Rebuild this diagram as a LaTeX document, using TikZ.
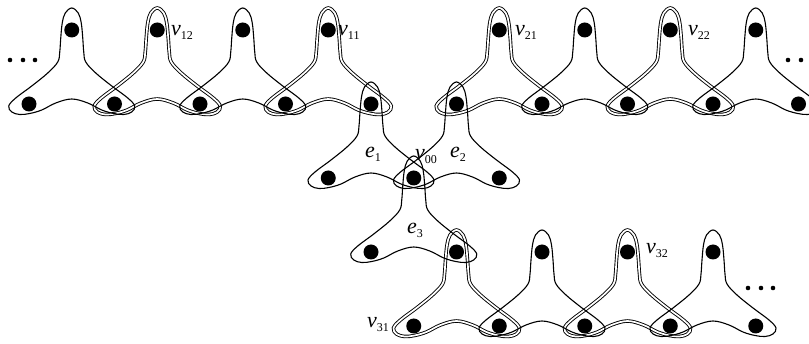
\documentclass[tikz,border=0pt]{standalone}
\usepackage{fontspec}
\setmainfont{Liberation Serif}
\begin{document}
\begin{tikzpicture}[x=1pt,y=-1pt,
  hedge/.style={line width=1.1pt},
  dbl/.style={line width=0.9pt, double distance=1.7pt},
  vtx/.style={circle, fill=black, inner sep=0pt, minimum size=15pt},
  sdot/.style={circle, fill=black, inner sep=0pt, minimum size=4.6pt},
  lbl/.style={font=\fontsize{22}{22}\selectfont\itshape, inner sep=0pt, anchor=base west},
  tripod/.pic={\path[pic actions] plot[smooth cycle, tension=0.6] coordinates{
    (0,-22) (6.5,-17) (9.5,-7) (11,8) (12,22) (14,32) (24,43) (40,56) (56,68)
    (63,76) (60,82) (52,84.5) (42,83.5) (30,80) (16,73) (0,69)
    (-16,73) (-30,80) (-42,83.5) (-52,84.5) (-60,82) (-63,76) (-56,68) (-40,56)
    (-24,43) (-14,32) (-12,22) (-11,8) (-9.5,-7) (-6.5,-17)};}
]
\useasboundingbox (0,0) rectangle (809,344);
\clip (0,0) rectangle (809,344);
\newcommand\sub[1]{\raisebox{-4pt}{\upshape\fontsize{12}{12}\selectfont #1}}
% vertices (coordinates only first)
\foreach \x [count=\i] in {71.75,157.25,242.75,328.25,499.25,584.75,670.25,755.75}
  \coordinate (t\i) at (\x,30);
\foreach \k in {0,...,9}
  \coordinate (b\k) at ({29+85.5*\k},104);
\coordinate (m1) at (328.25,178);
\coordinate (m0) at (413.75,178);
\coordinate (m2) at (499.25,178);
\foreach \x [count=\i] in {371,456.5,542,627.5,713}
  \coordinate (c\i) at (\x,252);
\foreach \x [count=\i] in {413.75,499.25,584.75,670.25,755.75}
  \coordinate (d\i) at (\x,326);
% double (highlighted) hyperedges
\foreach \p in {t2,t4,t5,t7,c2,c4}
  \pic[draw,dbl] at (\p) {tripod};
% single hyperedges
\foreach \p in {t1,t3,t6,t8,b4,b5,m0,c3,c5}
  \pic[draw,hedge] at (\p) {tripod};
% vertex dots
\foreach \p in {t1,t2,t3,t4,t5,t6,t7,t8,b0,b1,b2,b3,b4,b5,b6,b7,b8,b9,m1,m0,m2,c1,c2,c3,c4,c5,d1,d2,d3,d4,d5}
  \node[vtx] (n\p) at (\p) {};
% ellipsis dots
\node[sdot] (l1) at (10,60) {};
\node[sdot] (l2) at (23,60) {};
\node[sdot] (l3) at (35,60) {};
\node[sdot] (r1) at (788,60) {};
\node[sdot] (r2) at (801,60) {};
\node[sdot] (r3) at (814,60) {};
\node[sdot] (q1) at (748,288) {};
\node[sdot] (q2) at (761,288) {};
\node[sdot] (q3) at (773,288) {};
% labels
\node[lbl] (L12) at (171,36) {v\sub{12}};
\node[lbl] (L11) at (338,36) {v\sub{11}};
\node[lbl] (L21) at (515,36) {v\sub{21}};
\node[lbl] (L22) at (688,36) {v\sub{22}};
\node[lbl] (L00) at (415,160) {v\sub{00}};
\node[lbl] (E1) at (365,158) {e\sub{1}};
\node[lbl] (E2) at (450,158) {e\sub{2}};
\node[lbl] (E3) at (407,234) {e\sub{3}};
\node[lbl] (L31) at (367,328) {v\sub{31}};
\node[lbl] (L32) at (646,254) {v\sub{32}};
\end{tikzpicture}
\end{document}
